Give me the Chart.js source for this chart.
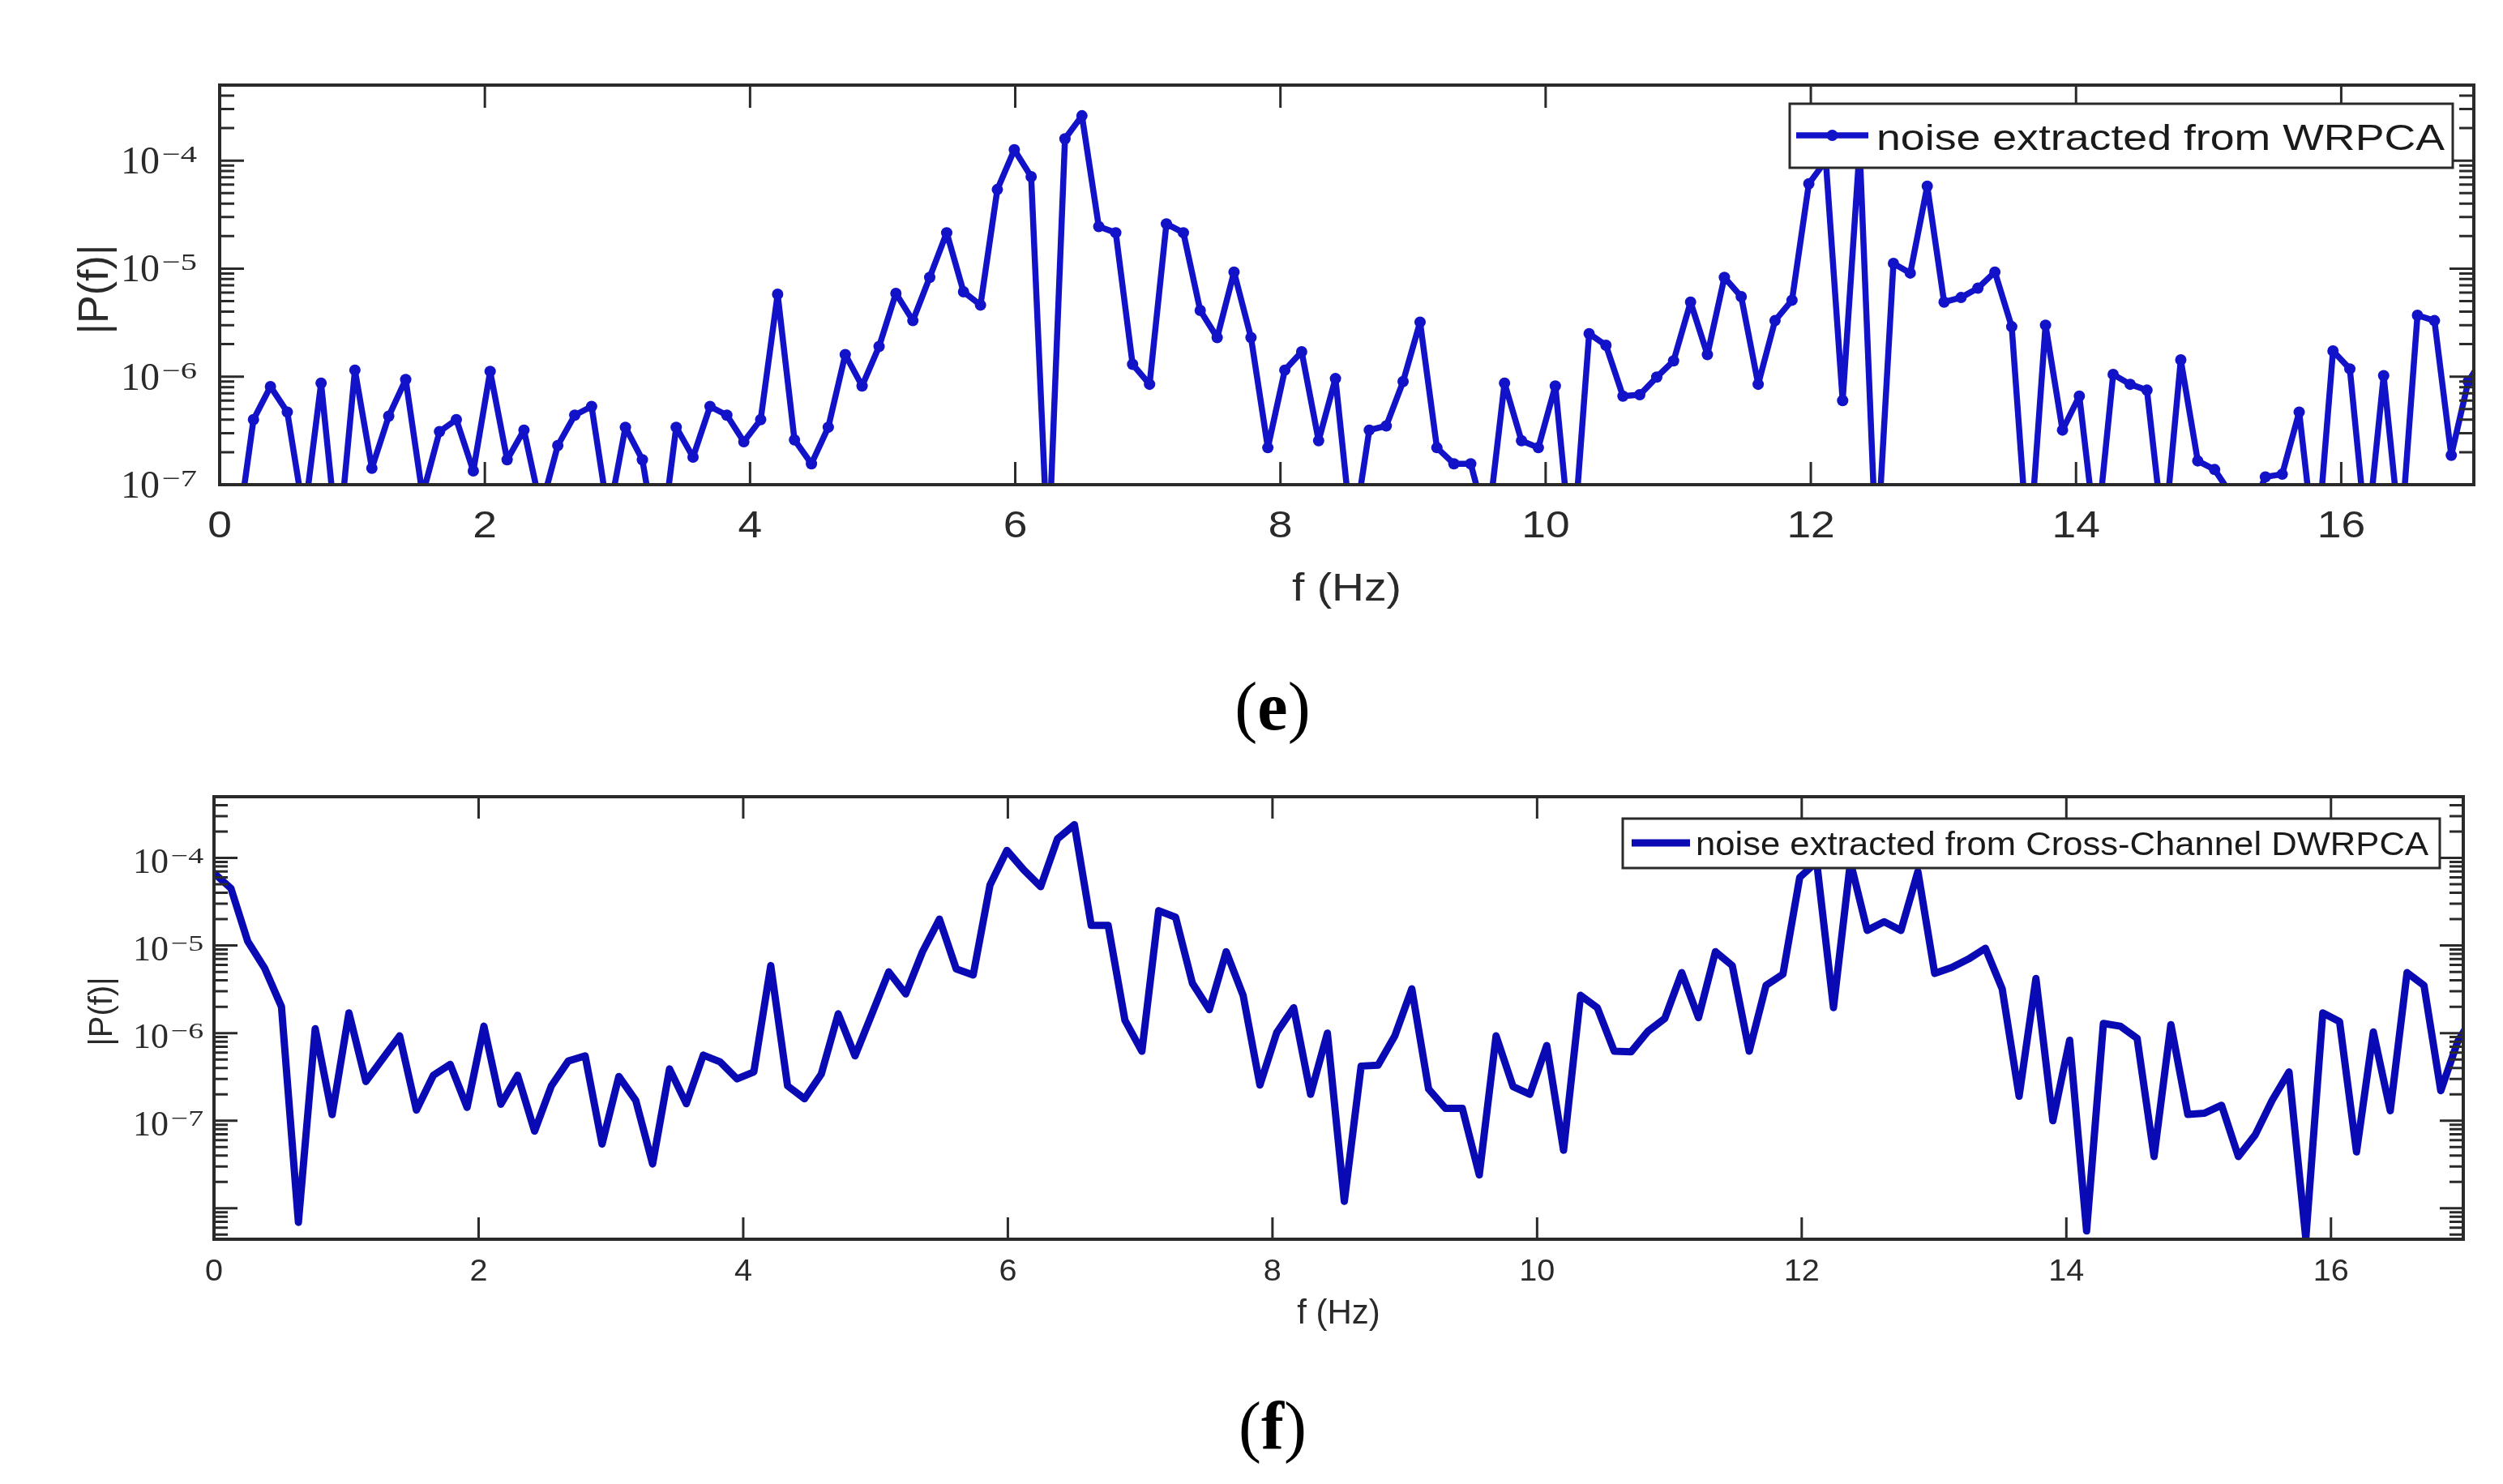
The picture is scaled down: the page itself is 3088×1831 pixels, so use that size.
<!DOCTYPE html>
<html>
<head>
<meta charset="utf-8">
<script src="https://cdn.jsdelivr.net/npm/chart.js@4.4.1/dist/chart.umd.min.js"></script>
<style>
html,body{margin:0;padding:0;background:#fff;}
body{width:3088px;height:1831px;position:relative;overflow:hidden;}
canvas{position:absolute;left:0;}
#cE{top:0;}
#cF{top:960px;}
.cap{position:absolute;left:0;width:3140px;text-align:center;font-family:'Liberation Serif','Times New Roman',serif;font-size:84px;line-height:84px;color:#000;}
.cap b{font-weight:bold;}
</style>
</head>
<body>
<canvas id="cE" width="3088" height="960"></canvas>
<canvas id="cF" width="3088" height="871"></canvas>
<div class="cap" style="top:830px">(<b>e</b>)</div>
<div class="cap" style="top:1718px">(<b>f</b>)</div>
<script>
// ---- frequency bins (Hz) ----
const freqHz = [
  0, 0.128, 0.255, 0.383, 0.51, 0.638, 0.765, 0.893, 1.02, 1.148,
  1.275, 1.403, 1.53, 1.658, 1.785, 1.913, 2.04, 2.168, 2.295, 2.423,
  2.55, 2.678, 2.805, 2.933, 3.06, 3.188, 3.315, 3.443, 3.57, 3.698,
  3.825, 3.953, 4.08, 4.208, 4.335, 4.463, 4.59, 4.718, 4.845, 4.973,
  5.1, 5.228, 5.355, 5.483, 5.61, 5.738, 5.865, 5.993, 6.12, 6.248,
  6.375, 6.503, 6.63, 6.758, 6.885, 7.013, 7.14, 7.268, 7.395, 7.523,
  7.65, 7.778, 7.905, 8.033, 8.16, 8.288, 8.415, 8.543, 8.67, 8.798,
  8.925, 9.053, 9.18, 9.308, 9.435, 9.563, 9.69, 9.818, 9.945, 10.073,
  10.2, 10.328, 10.455, 10.583, 10.71, 10.838, 10.965, 11.093, 11.22, 11.348,
  11.475, 11.603, 11.73, 11.858, 11.985, 12.113, 12.24, 12.368, 12.495, 12.623,
  12.75, 12.878, 13.005, 13.133, 13.26, 13.388, 13.515, 13.643, 13.77, 13.898,
  14.025, 14.153, 14.28, 14.408, 14.535, 14.663, 14.79, 14.918, 15.045, 15.173,
  15.3, 15.428, 15.555, 15.683, 15.81, 15.938, 16.065, 16.193, 16.32, 16.448,
  16.575, 16.703, 16.83, 16.958, 17.085
];

// ---- |P(f)| of noise extracted from WRPCA (panel e) ----
const wrpcaNoise = [
  2e-8, 3e-8, 4.0e-7, 8.1e-7, 4.7e-7, 5e-8, 8.7e-7, 2.5e-8, 1.15e-6, 1.42e-7,
  4.3e-7, 9.4e-7, 8e-8, 3.1e-7, 4.0e-7, 1.34e-7, 1.12e-6, 1.7e-7, 3.2e-7, 6e-8,
  2.3e-7, 4.4e-7, 5.3e-7, 5e-8, 3.4e-7, 1.7e-7, 2e-8, 3.4e-7, 1.8e-7, 5.3e-7,
  4.4e-7, 2.5e-7, 4.0e-7, 5.8e-6, 2.6e-7, 1.56e-7, 3.4e-7, 1.6e-6, 8.2e-7, 1.9e-6,
  5.9e-6, 3.3e-6, 8.3e-6, 2.15e-5, 6.1e-6, 4.6e-6, 5.4e-5, 1.26e-4, 7.1e-5, 2e-8,
  1.59e-4, 2.6e-4, 2.45e-5, 2.15e-5, 1.3e-6, 8.5e-7, 2.6e-5, 2.15e-5, 4.1e-6, 2.3e-6,
  9.3e-6, 2.3e-6, 2.2e-7, 1.15e-6, 1.7e-6, 2.55e-7, 9.6e-7, 3e-8, 3.2e-7, 3.5e-7,
  9.0e-7, 3.2e-6, 2.2e-7, 1.56e-7, 1.56e-7, 4e-8, 8.7e-7, 2.55e-7, 2.2e-7, 8.2e-7,
  2e-8, 2.5e-6, 1.95e-6, 6.6e-7, 6.8e-7, 9.9e-7, 1.4e-6, 4.9e-6, 1.6e-6, 8.3e-6,
  5.5e-6, 8.5e-7, 3.3e-6, 5.1e-6, 6.1e-5, 1.0e-4, 6.0e-7, 1.3e-4, 2e-8, 1.12e-5,
  9.1e-6, 5.8e-5, 4.9e-6, 5.4e-6, 6.6e-6, 9.3e-6, 2.9e-6, 2e-8, 3.0e-6, 3.2e-7,
  6.6e-7, 3e-8, 1.05e-6, 8.5e-7, 7.5e-7, 3e-8, 1.43e-6, 1.66e-7, 1.38e-7, 8e-8,
  5e-8, 1.18e-7, 1.25e-7, 4.7e-7, 2e-8, 1.73e-6, 1.18e-6, 3e-8, 1.02e-6, 3e-8,
  3.7e-6, 3.3e-6, 1.87e-7, 9e-7, 1.6e-6
];

// ---- |P(f)| of noise extracted from Cross-Channel DWRPCA (panel f) ----
const dwrpcaNoise = [
  6.7e-5, 4.5e-5, 1.12e-5, 5.5e-6, 2.0e-6, 6.9e-9, 1.12e-6, 1.17e-7, 1.7e-6, 2.8e-7,
  5.1e-7, 9.3e-7, 1.32e-7, 3.3e-7, 4.4e-7, 1.42e-7, 1.2e-6, 1.54e-7, 3.3e-7, 7.6e-8,
  2.5e-7, 4.8e-7, 5.5e-7, 5.4e-8, 3.2e-7, 1.7e-7, 3.2e-8, 3.9e-7, 1.56e-7, 5.6e-7,
  4.7e-7, 3.0e-7, 3.6e-7, 5.9e-6, 2.5e-7, 1.78e-7, 3.4e-7, 1.66e-6, 5.5e-7, 1.66e-6,
  5.0e-6, 2.8e-6, 8.5e-6, 2.0e-5, 5.4e-6, 4.6e-6, 4.9e-5, 1.22e-4, 7.3e-5, 4.7e-5,
  1.65e-4, 2.4e-4, 1.7e-5, 1.7e-5, 1.4e-6, 6.2e-7, 2.5e-5, 2.1e-5, 3.7e-6, 1.85e-6,
  8.5e-6, 2.7e-6, 2.55e-7, 1.02e-6, 1.95e-6, 2.0e-7, 1.0e-6, 1.2e-8, 4.2e-7, 4.3e-7,
  9.3e-7, 3.2e-6, 2.3e-7, 1.38e-7, 1.38e-7, 2.4e-8, 9.3e-7, 2.45e-7, 2.0e-7, 7.2e-7,
  4.6e-8, 2.7e-6, 1.95e-6, 6.2e-7, 6.1e-7, 1.05e-6, 1.47e-6, 4.9e-6, 1.5e-6, 8.5e-6,
  5.9e-6, 6.2e-7, 3.5e-6, 4.7e-6, 6.0e-5, 9e-5, 1.95e-6, 9e-5, 1.49e-5, 1.87e-5,
  1.49e-5, 7.0e-5, 4.8e-6, 5.6e-6, 7.0e-6, 9.3e-6, 3.2e-6, 1.9e-7, 4.2e-6, 1.0e-7,
  8.3e-7, 5.5e-9, 1.29e-6, 1.2e-6, 8.7e-7, 3.9e-8, 1.25e-6, 1.18e-7, 1.22e-7, 1.5e-7,
  3.9e-8, 6.9e-8, 1.7e-7, 3.6e-7, 4.5e-9, 1.7e-6, 1.35e-6, 4.4e-8, 1.03e-6, 1.3e-7,
  4.9e-6, 3.5e-6, 2.2e-7, 8e-7, 1.65e-6
];

// ---- ticks and labels ----
const xTickValues = [0, 2, 4, 6, 8, 10, 12, 14, 16];
const xTickLabels = ['0', '2', '4', '6', '8', '10', '12', '14', '16'];
const yDecadesE = [1e-7, 1e-6, 1e-5, 1e-4];
const yExpLabelsE = ['\u22127', '\u22126', '\u22125', '\u22124'];
const yDecadesF = [1e-8, 1e-7, 1e-6, 1e-5, 1e-4];
const yExpLabelsF = ['', '\u22127', '\u22126', '\u22125', '\u22124'];
const legendE = 'noise extracted from WRPCA';
const legendF = 'noise extracted from Cross-Channel DWRPCA';
const xTitle = 'f (Hz)';
const yTitle = '|P(f)|';

const SANS = "'Liberation Sans', Arial, Helvetica, sans-serif";
const SERIF = "'Liberation Serif', 'Times New Roman', serif";

function stretchText(ctx, txt, x, y, align, sx) {
  ctx.save();
  ctx.translate(x, y);
  ctx.scale(sx, 1);
  ctx.textAlign = align;
  ctx.fillText(txt, 0, 0);
  ctx.restore();
}

const matlabAxes = {
  id: 'matlabAxes',
  afterDatasetsDraw(chart, args, o) {
    const ctx = chart.ctx, a = chart.chartArea, xs = chart.scales.x, ys = chart.scales.y;
    ctx.save();
    // ticks (inward, mirrored)
    ctx.strokeStyle = o.axisColor;
    ctx.lineWidth = o.tickWidth;
    ctx.lineCap = 'butt';
    ctx.beginPath();
    o.xTicks.forEach(v => {
      const px = xs.getPixelForValue(v);
      ctx.moveTo(px, a.bottom); ctx.lineTo(px, a.bottom - o.xTickLen);
      ctx.moveTo(px, a.top); ctx.lineTo(px, a.top + o.xTickLen);
    });
    o.yMajor.forEach(v => {
      const py = ys.getPixelForValue(v);
      ctx.moveTo(a.left, py); ctx.lineTo(a.left + o.yMajorLen, py);
      ctx.moveTo(a.right, py); ctx.lineTo(a.right - o.yMajorLen, py);
    });
    const lo = ys.min, hi = ys.max;
    for (let e = Math.floor(Math.log10(lo)); e <= Math.ceil(Math.log10(hi)); e++) {
      for (let m = 2; m <= 9; m++) {
        const v = m * Math.pow(10, e);
        if (v < lo || v > hi) continue;
        const py = ys.getPixelForValue(v);
        ctx.moveTo(a.left, py); ctx.lineTo(a.left + o.yMinorLen, py);
        ctx.moveTo(a.right, py); ctx.lineTo(a.right - o.yMinorLen, py);
      }
    }
    ctx.stroke();
    // box
    ctx.lineWidth = o.boxWidth;
    ctx.strokeRect(a.left, a.top, a.right - a.left, a.bottom - a.top);

    // tick labels
    ctx.fillStyle = o.textColor;
    ctx.textBaseline = 'alphabetic';
    ctx.font = o.xTickFont + 'px ' + SANS;
    o.xTicks.forEach((v, i) => stretchText(ctx, o.xLabels[i], xs.getPixelForValue(v), o.xLabelBaseline, 'center', o.sx));
    o.yMajor.forEach((v, i) => {
      const lab = o.yLabels[i];
      if (!lab) return;
      const py = ys.getPixelForValue(v);
      ctx.font = o.yBaseFont + 'px ' + SERIF;
      stretchText(ctx, '10', o.yBaseRight, py + o.yBaseDy, 'right', 1);
      ctx.font = o.ySupFont + 'px ' + SERIF;
      stretchText(ctx, lab, o.ySupLeft, py + o.ySupDy, 'left', o.ySupSx);
    });
    // axis titles
    ctx.font = o.xTitleFont + 'px ' + SANS;
    stretchText(ctx, o.xTitle, (a.left + a.right) / 2, o.xTitleBaseline, 'center', o.sxTitle);
    ctx.save();
    ctx.translate(o.yTitleX, o.yTitleY);
    ctx.rotate(-Math.PI / 2);
    ctx.font = o.yTitleFont + 'px ' + SANS;
    ctx.textAlign = 'center';
    ctx.textBaseline = 'middle';
    ctx.fillText(o.yTitle, 0, 0);
    ctx.restore();

    // legend box
    const L = o.legend, ds = chart.data.datasets[0];
    ctx.fillStyle = '#ffffff';
    ctx.fillRect(L.left, L.top, L.right - L.left, L.bottom - L.top);
    ctx.lineWidth = L.borderWidth;
    ctx.strokeStyle = o.axisColor;
    ctx.strokeRect(L.left, L.top, L.right - L.left, L.bottom - L.top);
    ctx.strokeStyle = ds.borderColor;
    ctx.lineWidth = ds.borderWidth;
    ctx.beginPath();
    ctx.moveTo(L.lineX1, L.lineY); ctx.lineTo(L.lineX2, L.lineY);
    ctx.stroke();
    if (ds.pointRadius > 0) {
      ctx.fillStyle = ds.borderColor;
      ctx.beginPath();
      ctx.arc((L.lineX1 + L.lineX2) / 2, L.lineY, ds.pointRadius, 0, Math.PI * 2);
      ctx.fill();
    }
    ctx.fillStyle = L.textColor;
    ctx.font = L.font + 'px ' + SANS;
    ctx.textBaseline = 'alphabetic';
    const w = ctx.measureText(ds.label).width;
    stretchText(ctx, ds.label, L.textLeft, L.baseline, 'left', L.textWidth / w);
    ctx.restore();
  }
};

function makeChart(id, label, values, color, lineW, radius, yMin, yMax, padding, axesOpts) {
  return new Chart(document.getElementById(id), {
    type: 'line',
    data: {
      datasets: [{
        label: label,
        data: freqHz.map((f, i) => ({ x: f, y: values[i] })),
        borderColor: color,
        backgroundColor: color,
        borderWidth: lineW,
        borderJoinStyle: 'round',
        borderCapStyle: 'round',
        pointRadius: radius,
        pointBorderWidth: 0,
        pointBackgroundColor: color,
        tension: 0,
        fill: false,
        clip: 0
      }]
    },
    options: {
      responsive: false,
      animation: false,
      devicePixelRatio: 1,
      layout: { padding: padding },
      scales: {
        x: { type: 'linear', min: 0, max: 17, display: false },
        y: { type: 'logarithmic', min: yMin, max: yMax, display: false }
      },
      plugins: {
        legend: { display: false },
        tooltip: { enabled: false },
        matlabAxes: axesOpts
      }
    },
    plugins: [matlabAxes]
  });
}

makeChart('cE', legendE, wrpcaNoise, '#1212c8', 7.5, 7, 1e-7, 5e-4,
  { left: 271, right: 36, top: 105, bottom: 362 },
  {
    axisColor: '#2a2a2a', textColor: '#2a2a2a', tickWidth: 3, boxWidth: 4,
    xTicks: xTickValues, xLabels: xTickLabels, xTickLen: 28,
    yMajor: yDecadesE, yLabels: yExpLabelsE, yMajorLen: 30, yMinorLen: 18,
    xTickFont: 46, xLabelBaseline: 663, sx: 1.16,
    yBaseFont: 48, yBaseRight: 197, yBaseDy: 16, ySupFont: 30, ySupLeft: 200, ySupDy: 2, ySupSx: 1.35,
    xTitle: xTitle, xTitleFont: 48, xTitleBaseline: 741, sxTitle: 1.15,
    yTitle: yTitle, yTitleFont: 52, yTitleX: 119, yTitleY: 357,
    legend: { left: 2208, top: 128, right: 3026, bottom: 207, borderWidth: 3,
      lineX1: 2216, lineX2: 2305, lineY: 167, textLeft: 2315, baseline: 185,
      font: 45, textWidth: 701, textColor: '#1a1a1a' }
  });

makeChart('cF', legendF, dwrpcaNoise, '#0a0ab4', 9, 0, 4.43e-9, 5e-4,
  { left: 264, right: 49, top: 23, bottom: 302 },
  {
    axisColor: '#2a2a2a', textColor: '#2a2a2a', tickWidth: 3, boxWidth: 4,
    xTicks: xTickValues, xLabels: xTickLabels, xTickLen: 27,
    yMajor: yDecadesF, yLabels: yExpLabelsF, yMajorLen: 29, yMinorLen: 17,
    xTickFont: 36, xLabelBaseline: 620, sx: 1.1,
    yBaseFont: 44, yBaseRight: 208, yBaseDy: 18, ySupFont: 28, ySupLeft: 211, ySupDy: 6, ySupSx: 1.35,
    xTitle: xTitle, xTitleFont: 42, xTitleBaseline: 673, sxTitle: 1.0,
    yTitle: yTitle, yTitleFont: 40, yTitleX: 127, yTitleY: 288,
    legend: { left: 2002, top: 50, right: 3010, bottom: 111, borderWidth: 3,
      lineX1: 2013, lineX2: 2085, lineY: 80, textLeft: 2092, baseline: 95,
      font: 41, textWidth: 904, textColor: '#1a1a1a' }
  });
</script>
</body>
</html>
